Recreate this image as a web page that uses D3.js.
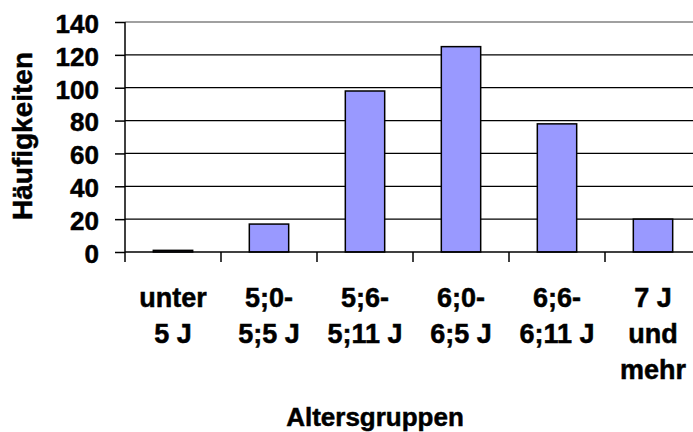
<!DOCTYPE html>
<html>
<head>
<meta charset="utf-8">
<script src="https://cdn.jsdelivr.net/npm/d3@7"></script>
<style>
  html, body { margin: 0; padding: 0; background: #fff; }
  svg { display: block; }
  text { font-family: "Liberation Sans", Arial, sans-serif; font-weight: bold; fill: #000; stroke: #000; stroke-width: 0.5px; }
</style>
</head>
<body>
<svg id="chart" width="693" height="432"></svg>
<script>
const categories = ["unter\n5 J", "5;0-\n5;5 J", "5;6-\n5;11 J", "6;0-\n6;5 J", "6;6-\n6;11 J", "7 J\nund\nmehr"];
const values = [1, 17, 98, 125, 78, 20];
const yTicks = [0, 20, 40, 60, 80, 100, 120, 140];
const yTitle = "Häufigkeiten";
const xTitle = "Altersgruppen";

const svg = d3.select("#chart");
const pLeft = 125, pRight = 701, pTop = 22, pBottom = 252;

const x = d3.scaleBand().domain(categories).range([pLeft, pRight]).padding(0);
const y = d3.scaleLinear().domain([0, 140]).range([pBottom, pTop]);

// gridlines
svg.append("g")
  .selectAll("line")
  .data(yTicks.filter(d => d > 0))
  .join("line")
  .attr("x1", pLeft).attr("x2", pRight)
  .attr("y1", d => y(d)).attr("y2", d => y(d))
  .attr("stroke", d => d === 140 ? "#808080" : "#000")
  .attr("stroke-width", 1.3);

// bars
const barW = x.bandwidth() * 0.41;
svg.append("g")
  .selectAll("rect")
  .data(values)
  .join("rect")
  .attr("x", (d, i) => x(categories[i]) + (x.bandwidth() - barW) / 2)
  .attr("y", d => y(d))
  .attr("width", barW)
  .attr("height", d => y(0) - y(d))
  .attr("fill", "#9999FF")
  .attr("stroke", "#000")
  .attr("stroke-width", 1.5);

// y axis
const yAxis = svg.append("g")
  .attr("transform", `translate(${pLeft},0)`)
  .call(d3.axisLeft(y).tickValues(yTicks).tickSize(10).tickPadding(16));
yAxis.select(".domain").remove();
yAxis.selectAll(".tick line").attr("stroke", "#000").attr("stroke-width", 1.5);
yAxis.selectAll(".tick text")
  .attr("font-size", 26)
  .attr("dy", "0.4em")
  .style("font-family", "'Liberation Sans', Arial, sans-serif")
  .style("font-weight", "bold");
svg.append("line")
  .attr("x1", pLeft).attr("x2", pLeft)
  .attr("y1", pTop).attr("y2", pBottom + 10)
  .attr("stroke", "#000").attr("stroke-width", 1.5);

// x axis
svg.append("line")
  .attr("x1", pLeft).attr("x2", pRight)
  .attr("y1", pBottom).attr("y2", pBottom)
  .attr("stroke", "#000").attr("stroke-width", 1.5);
const bounds = categories.map(c => x(c)).concat([pRight]);
svg.append("g")
  .selectAll("line")
  .data(bounds.slice(1))
  .join("line")
  .attr("x1", d => d).attr("x2", d => d)
  .attr("y1", pBottom).attr("y2", pBottom + 10)
  .attr("stroke", "#000").attr("stroke-width", 1.5);

// category labels
const lab = svg.append("g")
  .selectAll("text")
  .data(categories)
  .join("text")
  .attr("text-anchor", "middle")
  .attr("font-size", 27)
  .attr("x", d => x(d) + x.bandwidth() / 2)
  .attr("y", 307);
lab.selectAll("tspan")
  .data(d => d.split("\n").map(t => ({ t, c: d })))
  .join("tspan")
  .attr("x", d => x(d.c) + x.bandwidth() / 2)
  .attr("dy", (d, i) => i === 0 ? 0 : 36)
  .text(d => d.t);

// axis titles
svg.append("text")
  .attr("transform", "translate(32,136) rotate(-90)")
  .attr("text-anchor", "middle")
  .attr("font-size", 28)
  .text(yTitle);

svg.append("text")
  .attr("x", 375).attr("y", 426)
  .attr("text-anchor", "middle")
  .attr("font-size", 26)
  .text(xTitle);
</script>
</body>
</html>
